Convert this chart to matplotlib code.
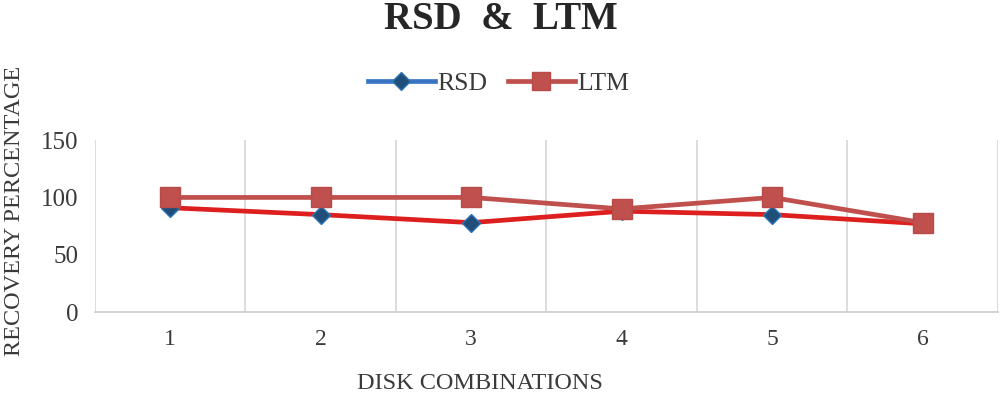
import numpy as np
import matplotlib.pyplot as plt
from matplotlib.lines import Line2D

# data
combos = [1, 2, 3, 4, 5, 6]
rsd = [91, 85, 78, 88, 85, 77]
ltm = [100, 100, 100, 90, 100, 78]
yticks = [0, 50, 100, 150]

plt.rcParams['font.family'] = ['Liberation Serif', 'DejaVu Serif']
text_col = '#3A3A3A'

fig = plt.figure(figsize=(10.05, 3.97), dpi=100)
ax = fig.add_axes([0.0945, 0.214, 0.8985, 0.433])

# RSD line is drawn red in the plot, blue diamonds
ax.plot(combos, rsd, color='#DE1F1F', lw=3.4, marker='D', markersize=9.5,
        markerfacecolor='#1F4E79', markeredgecolor='#2E75B6', markeredgewidth=1.0,
        zorder=3, solid_capstyle='round')
ax.plot(combos, ltm, color='#C0504D', lw=3.4, marker='s', markersize=14.5,
        markerfacecolor='#C0504D', markeredgecolor='#B84A47', zorder=4)

ax.set_xlim(0.5, 6.5)
ax.set_ylim(0, 150)
ax.set_xticks(combos)
ax.set_yticks(yticks)
ax.set_xticks(np.arange(0.5, 7.0, 1.0), minor=True)
ax.grid(True, which='minor', axis='x', color='#D9D9D9', lw=1.3)
ax.tick_params(which='both', length=0)
ax.tick_params(axis='y', labelsize=18, colors=text_col, pad=12)
ax.tick_params(axis='x', labelsize=17, colors=text_col, pad=12)

for s in ['top', 'right', 'left']:
    ax.spines[s].set_visible(False)
ax.spines['bottom'].set_color('#D0D0D0')
ax.spines['bottom'].set_linewidth(1.3)

fig.text(0.014, 0.47, 'RECOVERY PERCENTAGE', rotation=90, ha='center', va='center',
         fontsize=17.5, color=text_col)
fig.text(0.478, 0.035, 'DISK COMBINATIONS', ha='center', va='center',
         fontsize=17.5, color=text_col)
fig.text(0.498, 0.952, 'RSD  &  LTM', ha='center', va='center',
         fontsize=28, fontweight='bold', color='#262626')

handles = [
    Line2D([], [], color='#3A75C4', lw=3.4, marker='D', markersize=9.5,
           markerfacecolor='#1F4E79', markeredgecolor='#2E75B6'),
    Line2D([], [], color='#C0504D', lw=3.4, marker='s', markersize=13.5,
           markerfacecolor='#C0504D', markeredgecolor='#B84A47'),
]
fig.legend(handles, ['RSD', 'LTM'], loc='center', bbox_to_anchor=(0.496, 0.79),
           ncol=2, frameon=False, fontsize=18.5, handlelength=2.6,
           handletextpad=0.1, columnspacing=0.8, labelcolor=text_col)

fig.savefig('out.png', dpi=100)
